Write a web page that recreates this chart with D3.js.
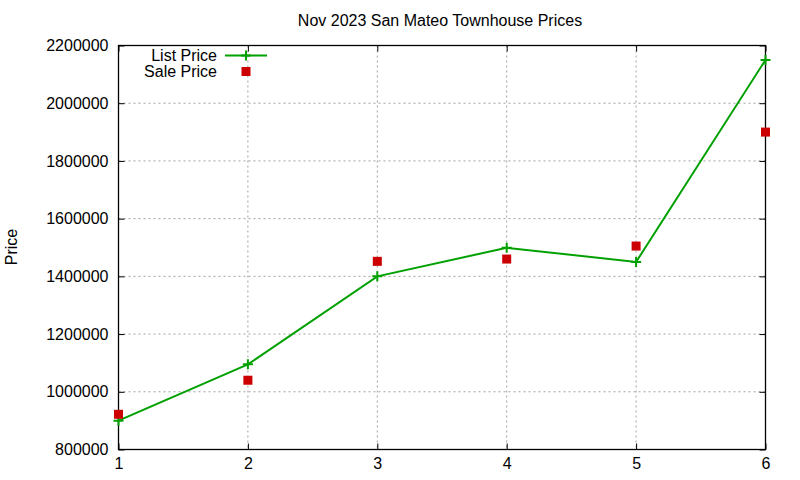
<!DOCTYPE html>
<html>
<head>
<meta charset="utf-8">
<script src="https://cdn.jsdelivr.net/npm/d3@7"></script>
<style>
  body { margin: 0; background: #fff; }
  text { font-family: "Liberation Sans", Arial, sans-serif; fill: #000; }
</style>
</head>
<body>
<div id="chart"></div>
<script>
// Data
const months = [1, 2, 3, 4, 5, 6];
const listPrice = [900000, 1095000, 1400000, 1499000, 1450000, 2150000];
const salePrice = [922000, 1040000, 1452000, 1460000, 1505000, 1900000];
const yTicks = [800000, 1000000, 1200000, 1400000, 1600000, 1800000, 2000000, 2200000];

const W = 800, H = 480;
const margin = {top: 45.5, right: 34.5, bottom: 30.5, left: 118.5},
      width = W - margin.left - margin.right,
      height = H - margin.top - margin.bottom;

const green = "#00a000", red = "#cc0000";

const svg = d3.select("#chart").append("svg")
    .attr("width", W).attr("height", H);

const g = svg.append("g")
    .attr("transform", "translate(" + margin.left + "," + margin.top + ")");

const x = d3.scaleLinear().domain([1, 6]).range([0, width]);
const y = d3.scaleLinear().domain([800000, 2200000]).range([height, 0]);

// grid
g.append("g").selectAll("line")
    .data(months.slice(1, -1))
    .join("line")
    .attr("x1", d => x(d)).attr("x2", d => x(d))
    .attr("y1", 0).attr("y2", height)
    .attr("stroke", "#a0a0a0").attr("stroke-dasharray", "2,3");
g.append("g").selectAll("line")
    .data(yTicks.slice(1, -1))
    .join("line")
    .attr("x1", 0).attr("x2", width)
    .attr("y1", d => y(d)).attr("y2", d => y(d))
    .attr("stroke", "#a0a0a0").attr("stroke-dasharray", "2,3");

// axes with inward ticks, mirrored
const tickLen = 6;
const axisStyle = a => {
  a.select(".domain").remove();
  a.selectAll("line").attr("stroke", "#000");
  a.selectAll("text").style("font-size", "16px");
};
g.append("g")
    .attr("transform", "translate(0," + height + ")")
    .call(d3.axisBottom(x).tickValues(months).tickFormat(d3.format("d"))
      .tickSizeInner(-tickLen).tickPadding(8))
    .call(axisStyle);
g.append("g")
    .call(d3.axisTop(x).tickValues(months).tickFormat("").tickSizeInner(-tickLen))
    .call(axisStyle);
g.append("g")
    .call(d3.axisLeft(y).tickValues(yTicks).tickFormat(d3.format("d"))
      .tickSizeInner(-tickLen).tickPadding(10))
    .call(axisStyle);
g.append("g")
    .attr("transform", "translate(" + width + ",0)")
    .call(d3.axisRight(y).tickValues(yTicks).tickFormat("").tickSizeInner(-tickLen))
    .call(axisStyle);

g.append("rect")
    .attr("width", width).attr("height", height)
    .attr("fill", "none").attr("stroke", "#000").attr("stroke-width", 1.3);

// list price line
const line = d3.line()
    .x((d, i) => x(months[i]))
    .y(d => y(d));
g.append("path")
    .datum(listPrice)
    .attr("d", line)
    .attr("fill", "none")
    .attr("stroke", green)
    .attr("stroke-width", 2);

const crossPath = s => `M${-s},0H${s}M0,${-s}V${s}`;
g.append("g").selectAll("path")
    .data(listPrice)
    .join("path")
    .attr("transform", (d, i) => `translate(${x(months[i])},${y(d)})`)
    .attr("d", crossPath(5))
    .attr("stroke", green).attr("stroke-width", 2);

// sale price squares
g.append("g").selectAll("rect")
    .data(salePrice)
    .join("rect")
    .attr("x", (d, i) => x(months[i]) - 4.5)
    .attr("y", d => y(d) - 4.5)
    .attr("width", 9).attr("height", 9)
    .attr("fill", red);

// legend
const legend = svg.append("g").attr("transform", "translate(217,55.5)");
legend.append("text").attr("x", 0).attr("y", 0).attr("dy", "0.35em")
    .attr("text-anchor", "end").style("font-size", "16px").text("List Price");
legend.append("line").attr("x1", 8).attr("x2", 50).attr("y1", 0).attr("y2", 0)
    .attr("stroke", green).attr("stroke-width", 2);
legend.append("path").attr("transform", "translate(29,0)")
    .attr("d", crossPath(5)).attr("stroke", green).attr("stroke-width", 2);
legend.append("text").attr("x", 0).attr("y", 15.5).attr("dy", "0.35em")
    .attr("text-anchor", "end").style("font-size", "16px").text("Sale Price");
legend.append("rect").attr("x", 24.5).attr("y", 11.5).attr("width", 9).attr("height", 9)
    .attr("fill", red);

// title and y label
svg.append("text")
    .attr("x", 440).attr("y", 26)
    .attr("text-anchor", "middle")
    .style("font-size", "16px")
    .text("Nov 2023 San Mateo Townhouse Prices");
svg.append("text")
    .attr("transform", "translate(17,247) rotate(-90)")
    .attr("text-anchor", "middle")
    .style("font-size", "16px")
    .text("Price");
</script>
</body>
</html>
